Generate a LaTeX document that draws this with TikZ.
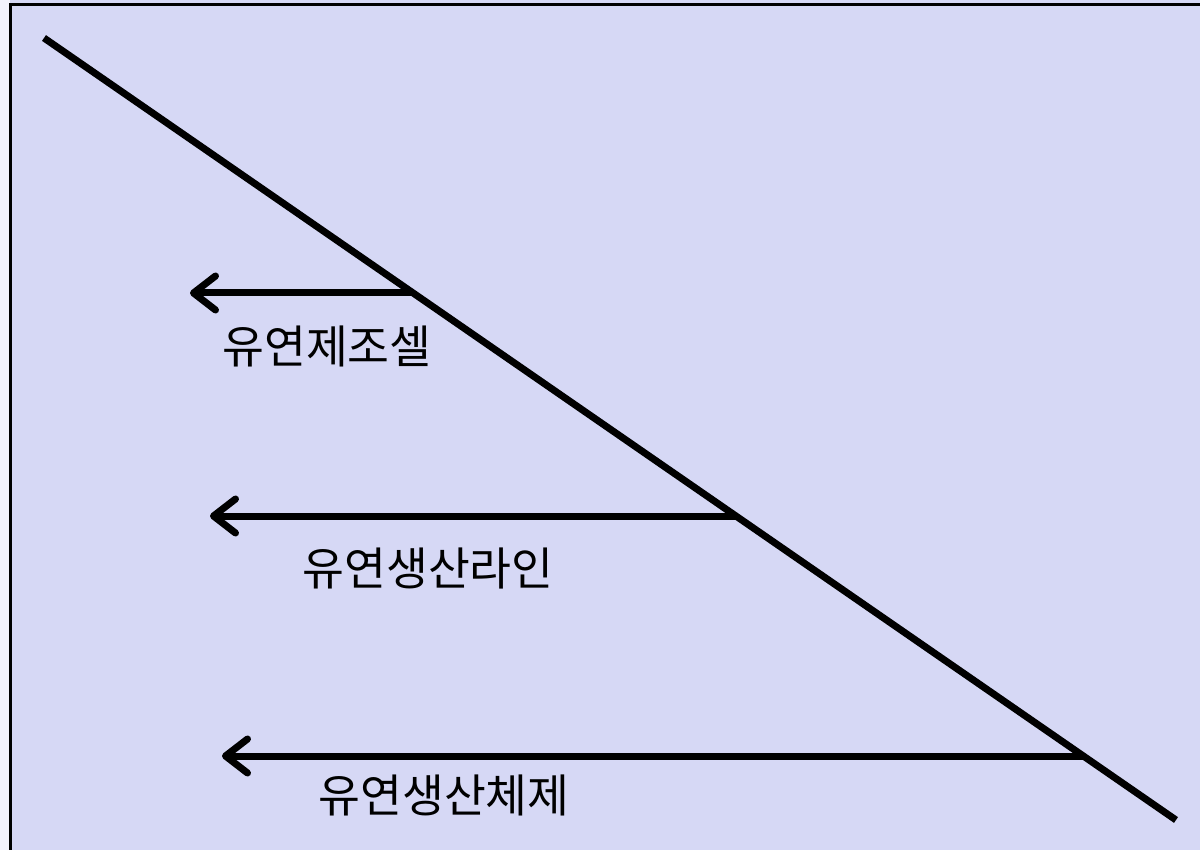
\documentclass[tikz,border=0pt]{standalone}
\usepackage{fontspec}
\newfontfamily\kr{Noto Sans CJK KR}
\usetikzlibrary{arrows.meta}
\definecolor{bgl}{RGB}{214,216,245}
\begin{document}
\begin{tikzpicture}[x=1pt,y=-1pt,
  main/.style={line width=7pt},
  pointer/.style={line width=7pt,-{Straight Barb[length=22pt,width=34pt,line cap=round,line join=round]}},
  lbl/.style={font=\kr\fontsize{45.5}{50}\selectfont, inner sep=0pt}]
\useasboundingbox (0,0) rectangle (1200,850);
\fill[bgl] (0,0) rectangle (1200,850);
\fill[white!70!bgl] (0,0) rectangle (10,850);
\draw[line width=3pt] (10.5,850) -- (10.5,5) -- (1200,5);
\coordinate (top) at (44,38);
\coordinate (bot) at (1176,820);
\draw[main] (top) -- (bot);
\coordinate (s1) at (412,293);
\coordinate (e1) at (190,293);
\coordinate (s2) at (736,516);
\coordinate (e2) at (210,516);
\coordinate (s3) at (1083,756);
\coordinate (e3) at (222,756);
\draw[pointer] (s1) -- (e1);
\draw[pointer] (s2) -- (e2);
\draw[pointer] (s3) -- (e3);
\node[lbl] (t1) at (327,346) {유연제조셀};
\node[lbl] (t2) at (428,568) {유연생산라인};
\node[lbl] (t3) at (444,795) {유연생산체제};
\end{tikzpicture}
\end{document}
